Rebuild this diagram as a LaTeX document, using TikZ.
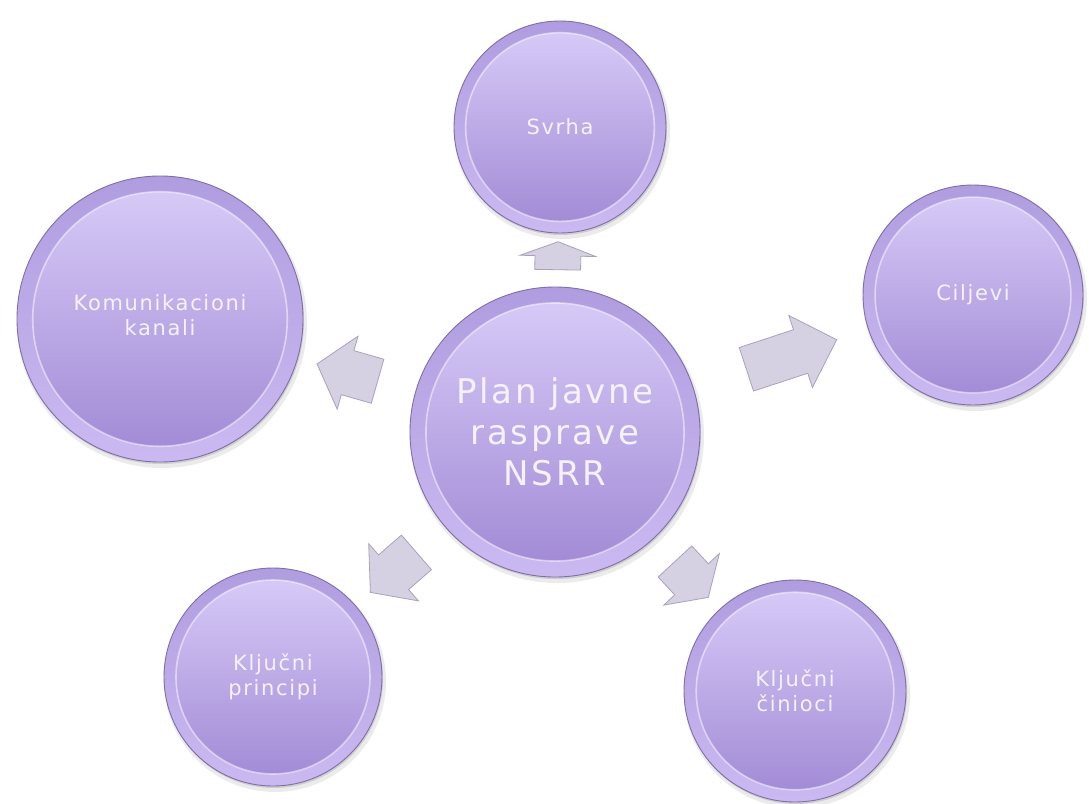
\documentclass[tikz,border=0pt]{standalone}
\usepackage{fontspec}
\newfontfamily\lblfont[LetterSpace=8]{DejaVu Sans}
\usetikzlibrary{shapes.arrows,calc}
\definecolor{ringtop}{RGB}{176,157,224}
\definecolor{ringbot}{RGB}{202,185,241}
\definecolor{intop}{RGB}{214,201,247}
\definecolor{inbot}{RGB}{163,140,214}
\definecolor{edgecol}{RGB}{128,110,168}
\definecolor{txtcol}{RGB}{246,242,252}
\definecolor{arrfill}{RGB}{213,209,226}
\definecolor{arredge}{RGB}{168,163,184}
\tikzset{
  bubbletext/.style={circle, inner sep=0pt, text=txtcol, align=center},
  smalltxt/.style={font=\lblfont\fontsize{21}{25}\selectfont},
  bigtxt/.style={font=\lblfont\fontsize{34}{41}\selectfont},
  blockarr/.style={single arrow, draw=arredge, fill=arrfill, line width=0.8pt,
    inner sep=0pt, text height=22.5pt, text depth=22.5pt, text width=0pt,
    single arrow head extend=15,
    midway, sloped, allow upside down},
}
% name, x, y, r, options, text
\newcommand\bubble[6]{%
  \fill[black,opacity=0.08] (#2+2,#3+4) circle ({#4+2});
  \fill[black,opacity=0.12] (#2+1,#3+2) circle (#4);
  \shade[top color=ringtop,bottom color=ringbot] (#2,#3) circle (#4);
  \shade[top color=intop,bottom color=inbot] (#2,#3) circle ({#4*0.89});
  \draw[white,opacity=0.5,line width=1.6] (#2,#3) circle ({#4*0.89});
  \draw[edgecol,line width=0.9] (#2,#3) circle (#4);
  \node[bubbletext, minimum size={2*#4}, #5] (#1) at (#2,#3) {#6};
}
\begin{document}
\begin{tikzpicture}[x=1pt,y=-1pt]
\fill[white] (0,0) rectangle (1089,803);
\useasboundingbox (0,0) rectangle (1089,803);
\bubble{c0}{555}{432}{145}{bigtxt}{Plan javne\\rasprave\\NSRR}
\bubble{svrha}{560}{127}{106}{smalltxt}{Svrha}
\bubble{ciljevi}{973}{295}{110}{smalltxt}{Ciljevi}
\bubble{kom}{160}{319}{143}{smalltxt, text depth=8pt}{Komunikacioni\\kanali}
\bubble{princ}{273}{677}{109}{smalltxt}{Ključni\\principi}
\bubble{cin}{795}{691}{111}{smalltxt}{Ključni\\činioci}
\path (c0) -- (svrha) node[blockarr, minimum height=28, single arrow tip angle=139] (a1) {};
\path (c0) -- (ciljevi) node[blockarr, minimum height=95, single arrow tip angle=90] (a2) {};
\path (c0) -- (kom) node[blockarr, minimum height=63, single arrow tip angle=100] (a3) {};
\path (c0) -- (princ) node[blockarr, minimum height=61, single arrow tip angle=102] (a4) {};
\path (c0) -- (cin) node[blockarr, minimum height=49, single arrow tip angle=114] (a5) {};
\end{tikzpicture}
\end{document}
